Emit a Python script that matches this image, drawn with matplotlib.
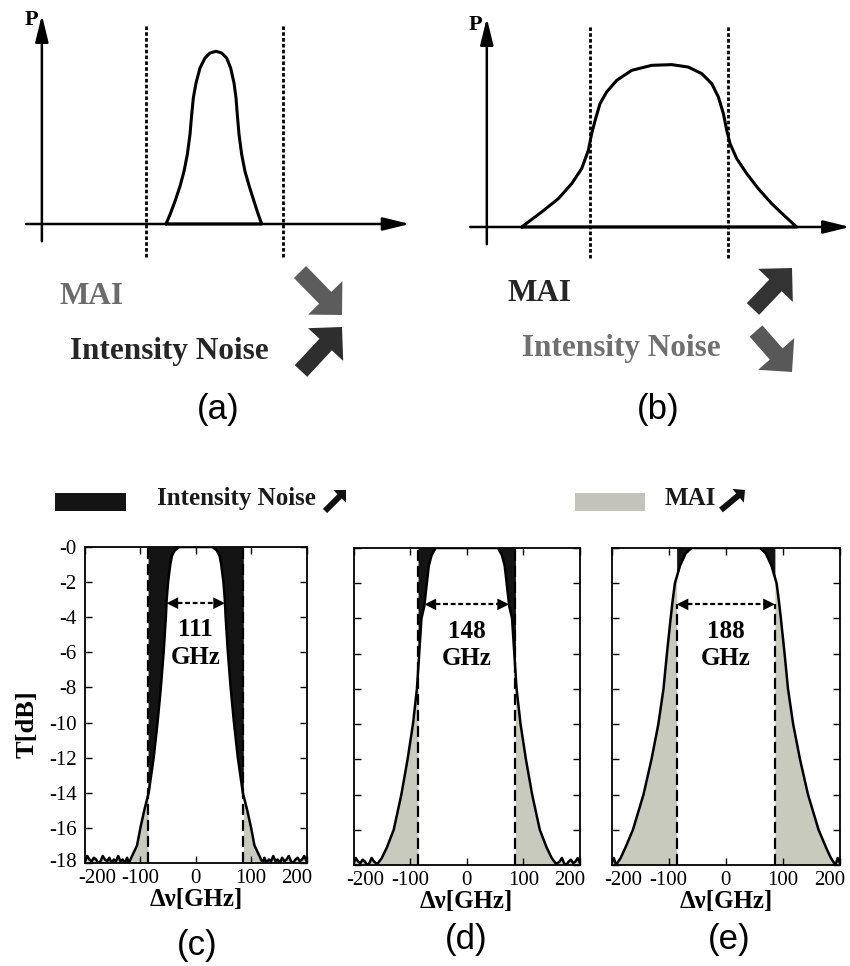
import matplotlib

matplotlib.use("Agg")
import matplotlib.pyplot as plt
import matplotlib.transforms as mtransforms
import numpy as np
from matplotlib.patches import FancyArrow, Rectangle

W, H = 850, 966
plt.rcParams["font.family"] = ["Liberation Serif", "DejaVu Serif"]

# schematic pulses (a) and (b): x in units of the window half-width, P normalised
PULSE_A_X = [-0.708, -0.650, -0.577, -0.504, -0.445, -0.397, -0.358, -0.333, -0.309, -0.270,
             -0.212, -0.139, -0.066, 0.022, 0.105, 0.178, 0.236, 0.285, 0.314, 0.333,
             0.358, 0.397, 0.445, 0.508, 0.577, 0.640, 0.689]
PULSE_A_P = [0.0, 0.054, 0.131, 0.218, 0.305, 0.402, 0.518, 0.633, 0.730, 0.816,
             0.903, 0.961, 0.990, 1.0, 0.990, 0.961, 0.903, 0.816, 0.730, 0.633,
             0.518, 0.402, 0.305, 0.218, 0.131, 0.054, 0.0]
PULSE_B_X = [-1.993, -1.702, -1.460, -1.266, -1.121, -1.024, -0.976, -0.918, -0.855, -0.758,
             -0.612, -0.394, -0.103, 0.188, 0.429, 0.624, 0.769, 0.865, 0.938, 0.987,
             1.035, 1.132, 1.278, 1.446, 1.641, 1.834, 2.004]
PULSE_B_P = [0.0, 0.087, 0.164, 0.251, 0.338, 0.444, 0.541, 0.628, 0.714, 0.782,
             0.849, 0.907, 0.936, 0.940, 0.926, 0.888, 0.830, 0.753, 0.657, 0.560,
             0.483, 0.396, 0.309, 0.222, 0.135, 0.062, 0.0]

# filter transmission, half profiles: offset from centre [GHz], T [dB]
PROFILE_C_OFF = [0, 30, 38, 43, 46, 50, 52.5, 54, 58, 63, 69, 76, 85, 93, 100, 106, 115, 121]
PROFILE_C_DB = [0, 0, -0.2, -0.5, -1, -2, -3, -4, -6, -8, -10, -12, -14, -15, -16, -17, -17.6, -18]
PROFILE_D_OFF = [0, 55, 62, 67, 70.5, 75, 80, 84, 88, 95, 104.5, 115.5, 129, 141, 150, 159]
PROFILE_D_DB = [0, 0, -0.4, -1.0, -2, -3.3, -4, -6, -8, -10, -12, -14, -16, -17, -17.6, -18]
PROFILE_E_OFF = [0, 60, 70, 80, 89, 93, 96.5, 103, 109, 118, 130, 144, 162.5, 175.5, 184, 192]
PROFILE_E_DB = [0, 0, -0.3, -1, -2, -3, -4, -6, -8, -10, -12, -14, -16, -17, -17.6, -18]

# noise floor of the measured transmission
FLOOR_OFF = np.array([120, 124, 128, 132, 136, 140, 144, 148, 152, 156, 160, 164, 168,
                      172, 176, 180, 184, 188, 192, 196, 200])
FLOOR_DB = np.array([-17.9, -17.7, -18.0, -17.8, -17.9, -17.6, -17.9, -17.8, -18.0, -17.7,
                     -17.9, -17.8, -17.6, -17.9, -18.0, -17.8, -17.7, -17.9, -17.8, -17.6, -17.9])

WINDOW_GHZ = 86
BW_LABELS = ["111", "148", "188"]
BW_LEVEL_DB = -3.2
DASH_TOP = [0, 0, BW_LEVEL_DB]
PANEL_LABELS = ["(c)", "(d)", "(e)"]

XTICKS = [-200, -100, 0, 100, 200]
XTICK_LABELS = ["-200", "-100", "0", "100", "200"]
YTICKS = [0, -2, -4, -6, -8, -10, -12, -14, -16, -18]
YTICK_LABELS = ["-0", "-2", "-4", "-6", "-8", "-10", "-12", "-14", "-16", "-18"]

BLACK_FILL = "#141414"
GRAY_FILL = "#c9cabe"

fig = plt.figure(figsize=(W / 100, H / 100), dpi=100)


def px_axes(x0, y0, x1, y1):
    return fig.add_axes([x0 / W, 1 - y1 / H, (x1 - x0) / W, (y1 - y0) / H])


def shift(label, dx, dy):
    label.set_transform(label.get_transform()
                        + mtransforms.ScaledTranslation(dx / 100, dy / 100, fig.dpi_scale_trans))


def schematic(ax, xs, ps, xlim, ylim, x_axis, y_axis, dots, p_pos):
    ax.set_xlim(*xlim)
    ax.set_ylim(*ylim)
    ax.axis("off")
    head = "-|>,head_length=0.9,head_width=0.22"
    ax.annotate("", xy=(x_axis[1], 0), xytext=(x_axis[0], 0),
                arrowprops=dict(arrowstyle=head, lw=1.8, color="k", shrinkA=0, shrinkB=0,
                                mutation_scale=18))
    ax.annotate("", xy=(y_axis[0], y_axis[2]), xytext=(y_axis[0], y_axis[1]),
                arrowprops=dict(arrowstyle=head, lw=1.8, color="k", shrinkA=0, shrinkB=0,
                                mutation_scale=18))
    for xd in (-1, 1):
        ax.plot([xd, xd], dots, color="k", lw=2.0, ls=(0, (1.3, 0.8)))
    ax.plot(list(xs) + [xs[0]], list(ps) + [ps[0]], color="k", lw=2.2,
            solid_joinstyle="round", solid_capstyle="round")
    ax.text(p_pos[0], p_pos[1], "P", ha="right", va="center", fontsize=16, fontweight="bold")


ax_a = px_axes(9.0, 8.1, 426.85, 275.8)
schematic(ax_a, PULSE_A_X, PULSE_A_P, (-3.0, 3.1), (-0.3, 1.25),
          (-2.75, 2.85), (-2.52, -0.10, 1.21), (-0.19, 1.16), (-2.57, 1.18))
ax_b = px_axes(452.4, 11.1, 850.1, 278.8)
schematic(ax_b, PULSE_B_X, PULSE_B_P, (-3.0, 2.78), (-0.3, 1.25),
          (-2.74, 2.78), (-2.50, -0.10, 1.21), (-0.18, 1.17), (-2.56, 1.17))

# filter panels
panels = [
    (px_axes(85, 547, 306.5, 863), PROFILE_C_OFF, PROFILE_C_DB),
    (px_axes(353.5, 548, 580, 865), PROFILE_D_OFF, PROFILE_D_DB),
    (px_axes(611.5, 548, 840, 865), PROFILE_E_OFF, PROFILE_E_DB),
]
for i, (ax, off, db) in enumerate(panels):
    off = np.asarray(off, float)
    db = np.asarray(db, float)
    extra = FLOOR_OFF > off[-1]
    f_off = np.concatenate([off, FLOOR_OFF[extra]])
    f_db = np.concatenate([db, FLOOR_DB[extra]])
    x = np.concatenate([-f_off[::-1], f_off[1:]])
    y = np.concatenate([f_db[::-1], f_db[1:]])

    w = WINDOW_GHZ
    xi = np.concatenate([[-w], x[(x > -w) & (x < w)], [w]])
    ax.fill_between(xi, np.interp(xi, x, y), 0, color=BLACK_FILL, lw=0, zorder=1)
    xl = np.concatenate([x[x < -w], [-w]])
    ax.fill_between(xl, -18, np.interp(xl, x, y), color=GRAY_FILL, lw=0, zorder=1)
    xr = np.concatenate([[w], x[x > w]])
    ax.fill_between(xr, -18, np.interp(xr, x, y), color=GRAY_FILL, lw=0, zorder=1)

    for xd in (-w, w):
        ax.plot([xd, xd], [-18, DASH_TOP[i]], color="k", lw=1.6, dashes=(5, 2.2), zorder=2)
    ax.plot(x, y, color="k", lw=1.8, zorder=3, solid_joinstyle="round")

    half = min(np.interp(BW_LEVEL_DB, db[::-1], off[::-1]), w)
    ax.plot([-half + 6, half - 6], [BW_LEVEL_DB] * 2, color="k", lw=1.6,
            ls=(0, (2.2, 1.2)), zorder=4)
    for s in (-1, 1):
        ax.annotate("", xy=(s * half, BW_LEVEL_DB), xytext=(s * (half - 12), BW_LEVEL_DB),
                    arrowprops=dict(arrowstyle="-|>,head_length=0.6,head_width=0.3",
                                    color="k", lw=0, shrinkA=0, shrinkB=0,
                                    mutation_scale=14), zorder=4)
    ax.text(0, -5.5, BW_LABELS[i] + "\nGHz", ha="center", va="center", fontsize=18,
            fontweight="bold", linespacing=1.25, zorder=5)

    ax.set_xlim(-200, 200)
    ax.set_ylim(-18, 0)
    ax.set_xticks(XTICKS)
    ax.set_xticklabels(XTICK_LABELS)
    ax.set_yticks(YTICKS)
    ax.set_yticklabels(YTICK_LABELS)
    ax.tick_params(direction="in", top=True, right=True, length=5, width=1.0,
                   labelsize=15)
    ax.tick_params(axis="x", pad=4)
    ax.tick_params(axis="y", pad=6)
    if i > 0:
        ax.tick_params(labelleft=False)
    # edge tick labels sit a little inside the frame, as in the print
    xlabels = ax.get_xticklabels()
    shift(xlabels[0], 12, 0)
    shift(xlabels[-1], -10, 0)
    if i == 0:
        shift(ax.get_yticklabels()[-1], 0, 3)
    for sp in ax.spines.values():
        sp.set_linewidth(1.3)
    ax.set_xlabel("Δν[GHz]", fontsize=18, fontweight="bold", labelpad=0)
    if i == 0:
        ax.set_ylabel("T[dB]", fontsize=19, fontweight="bold")
        ax.yaxis.set_label_coords(-0.21, 0.44)

# overlay for text, block arrows and the legend
ov = fig.add_axes([0, 0, 1, 1])
ov.set_xlim(0, W)
ov.set_ylim(H, 0)
ov.axis("off")
ov.patch.set_alpha(0)

big = dict(fontsize=22.5, fontweight="bold", va="baseline", ha="left")
ov.text(60, 304, "MAI", color="#6b6b6b", **big)
ov.text(70, 359, "Intensity Noise", color="#262626", **big)
ov.text(508, 301, "MAI", color="#262626", **big)
ov.text(522, 356, "Intensity Noise", color="#707070", **big)


def block_arrow(tail, tip, color, width=17, head=24):
    ov.add_patch(FancyArrow(tail[0], tail[1], tip[0] - tail[0], tip[1] - tail[1],
                            width=width, head_width=2 * head, head_length=head,
                            length_includes_head=True, color=color, lw=0))


block_arrow((300, 272), (342, 315), "#5c5c5c")
block_arrow((301, 371), (342, 327), "#2e2e2e")
block_arrow((753, 309), (792, 268), "#333333")
block_arrow((756, 331), (792, 372), "#585858")

sans = dict(fontsize=25, ha="center", va="center", family=["Liberation Sans", "DejaVu Sans"])
ov.text(218, 410, "(a)", **sans)
ov.text(658, 410, "(b)", **sans)
ov.text(197, 946, PANEL_LABELS[0], **sans)
ov.text(466, 940, PANEL_LABELS[1], **sans)
ov.text(729, 940, PANEL_LABELS[2], **sans)

# legend row
ov.add_patch(Rectangle((55, 493), 71, 18, color=BLACK_FILL, lw=0))
ov.add_patch(Rectangle((575, 493), 70, 18, color="#c3c3bb", lw=0))
small = dict(fontsize=18, fontweight="bold", va="baseline", ha="left", color="#1a1a1a")
ov.text(157, 505, "Intensity Noise", **small)
ov.text(665, 505, "MAI", **small)
block_arrow((325, 511), (346, 490), "#111111", width=6, head=9)
block_arrow((721, 510), (745, 490), "#111111", width=6, head=9)

fig.savefig("out.png", dpi=100)
